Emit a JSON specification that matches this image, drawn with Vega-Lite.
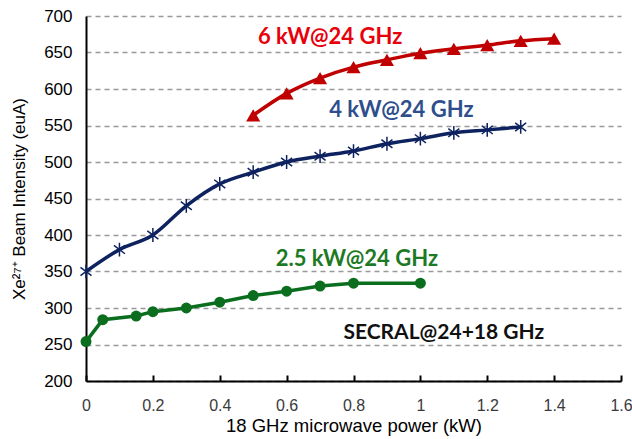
{
  "$schema": "https://vega.github.io/schema/vega-lite/v6.json",
  "width": 535,
  "height": 365,
  "autosize": {"type": "none"},
  "padding": {"left": 86, "top": 16, "right": 11, "bottom": 58},
  "background": "white",
  "config": {"view": {"stroke": null}, "font": "Liberation Sans"},
  "datasets": {
    "d": [
      {"s": "red", "x": 0.5, "y": 564},
      {"s": "red", "x": 0.6, "y": 594},
      {"s": "red", "x": 0.7, "y": 615},
      {"s": "red", "x": 0.8, "y": 630},
      {"s": "red", "x": 0.9, "y": 640},
      {"s": "red", "x": 1.0, "y": 649},
      {"s": "red", "x": 1.1, "y": 655},
      {"s": "red", "x": 1.2, "y": 660},
      {"s": "red", "x": 1.3, "y": 666},
      {"s": "red", "x": 1.4, "y": 669},
      {"s": "blue", "x": 0.0, "y": 350},
      {"s": "blue", "x": 0.1, "y": 380},
      {"s": "blue", "x": 0.2, "y": 400},
      {"s": "blue", "x": 0.3, "y": 440},
      {"s": "blue", "x": 0.4, "y": 470},
      {"s": "blue", "x": 0.5, "y": 486},
      {"s": "blue", "x": 0.6, "y": 500},
      {"s": "blue", "x": 0.7, "y": 508},
      {"s": "blue", "x": 0.8, "y": 515},
      {"s": "blue", "x": 0.9, "y": 525},
      {"s": "blue", "x": 1.0, "y": 532},
      {"s": "blue", "x": 1.1, "y": 540},
      {"s": "blue", "x": 1.2, "y": 544},
      {"s": "blue", "x": 1.3, "y": 548},
      {"s": "green", "x": 0.0, "y": 254},
      {"s": "green", "x": 0.05, "y": 284},
      {"s": "green", "x": 0.15, "y": 289},
      {"s": "green", "x": 0.2, "y": 295},
      {"s": "green", "x": 0.3, "y": 300},
      {"s": "green", "x": 0.4, "y": 308},
      {"s": "green", "x": 0.5, "y": 317},
      {"s": "green", "x": 0.6, "y": 323},
      {"s": "green", "x": 0.7, "y": 330},
      {"s": "green", "x": 0.8, "y": 334},
      {"s": "green", "x": 1.0, "y": 334}
    ],
    "labels": [
      {"t": "6 kW@24 GHz", "x": 0.73, "y": 671, "c": "red"},
      {"t": "4 kW@24 GHz", "x": 0.943, "y": 571, "c": "blue"},
      {"t": "2.5 kW@24 GHz", "x": 0.81, "y": 367, "c": "green"},
      {"t": "SECRAL@24+18 GHz", "x": 1.07, "y": 266, "c": "black"}
    ]
  },
  "encoding": {
    "x": {
      "field": "x", "type": "quantitative",
      "scale": {"domain": [0, 1.6], "nice": false, "zero": false},
      "axis": {
        "title": "18 GHz microwave power (kW)",
        "values": [0, 0.2, 0.4, 0.6, 0.8, 1, 1.2, 1.4, 1.6],
        "format": "~g",
        "grid": false,
        "domainColor": "black", "domainWidth": 2,
        "ticks": true, "tickColor": "black", "tickWidth": 2, "tickSize": -6,
        "labelPadding": 22, "labelFontSize": 16, "labelColor": "#3a3a3a",
        "labelFont": "Liberation Sans",
        "labelFlush": false,
        "titleFont": "Liberation Sans",
        "titleFontSize": 18.5, "titleFontWeight": "normal", "titleColor": "black",
        "titlePadding": 3
      }
    },
    "y": {
      "field": "y", "type": "quantitative",
      "scale": {"domain": [200, 700], "nice": false, "zero": false},
      "axis": {
        "title": "Xe²⁷⁺ Beam Intensity (euA)",
        "values": [200, 250, 300, 350, 400, 450, 500, 550, 600, 650, 700],
        "grid": true, "gridDash": [5, 4], "gridColor": "#999", "gridWidth": 1.5,
        "domainColor": "black", "domainWidth": 2,
        "ticks": false, "labelPadding": 14,
        "labelFont": "Liberation Sans",
        "labelFontSize": 17, "labelColor": "#000",
        "titleFont": "Liberation Sans",
        "titleFontSize": 17, "titleFontWeight": "normal", "titleColor": "black",
        "titlePadding": 15
      }
    }
  },
  "layer": [
    {
      "data": {"name": "d"},
      "transform": [{"filter": "datum.s == 'red'"}],
      "mark": {"type": "line", "interpolate": "monotone", "color": "#C00000", "strokeWidth": 3.5}
    },
    {
      "data": {"name": "d"},
      "transform": [{"filter": "datum.s == 'red'"}],
      "mark": {"type": "point", "shape": "triangle-up", "filled": true, "color": "#C00000", "size": 200, "opacity": 1}
    },
    {
      "data": {"name": "d"},
      "transform": [{"filter": "datum.s == 'blue'"}],
      "mark": {"type": "line", "interpolate": "monotone", "color": "#0E2260", "strokeWidth": 3.5}
    },
    {
      "data": {"name": "d"},
      "transform": [{"filter": "datum.s == 'blue'"}],
      "mark": {"type": "point", "shape": "M-0.8,-0.6L0.8,0.6M-0.8,0.6L0.8,-0.6M0,-1L0,1", "filled": false, "color": "#0E2260", "strokeWidth": 1.5, "size": 190, "opacity": 1}
    },
    {
      "data": {"name": "d"},
      "transform": [{"filter": "datum.s == 'green'"}],
      "mark": {"type": "line", "color": "#0A6E1E", "strokeWidth": 3.5}
    },
    {
      "data": {"name": "d"},
      "transform": [{"filter": "datum.s == 'green'"}],
      "mark": {"type": "point", "shape": "circle", "filled": true, "color": "#0A6E1E", "size": 120, "opacity": 1}
    },
    {
      "data": {"name": "labels"},
      "mark": {"type": "text", "font": "Lato", "fontWeight": "bold", "fontSize": 22, "align": "center", "baseline": "middle"},
      "encoding": {
        "text": {"field": "t"},
        "size": {"condition": {"test": "datum.c == 'black'", "value": 21}, "value": 22},
        "color": {
          "field": "c", "type": "nominal", "legend": null,
          "scale": {"domain": ["red", "blue", "green", "black"], "range": ["#E8000B", "#2E4E8C", "#1D7A24", "#111111"]}
        }
      }
    }
  ]
}
